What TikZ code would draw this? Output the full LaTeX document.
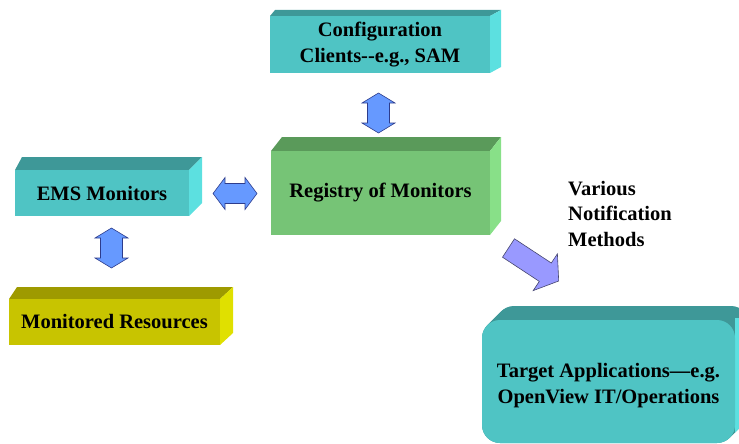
\documentclass[tikz,border=0pt]{standalone}
\usepackage{fontspec}
\setmainfont{Liberation Serif}
\usetikzlibrary{calc}
\definecolor{tealF}{RGB}{79,196,196}
\definecolor{tealT}{RGB}{62,152,152}
\definecolor{tealR}{RGB}{92,224,224}
\definecolor{greenF}{RGB}{118,196,118}
\definecolor{greenT}{RGB}{90,154,90}
\definecolor{greenR}{RGB}{136,224,136}
\definecolor{yelF}{RGB}{200,196,0}
\definecolor{yelT}{RGB}{158,154,0}
\definecolor{yelR}{RGB}{224,224,0}
\definecolor{arrowblue}{RGB}{102,153,255}
\definecolor{arrowedge}{RGB}{45,60,140}
\definecolor{lavender}{RGB}{153,153,255}
\definecolor{lavedge}{RGB}{70,70,110}
% side faces of a box: x1 y1 x2 y2 (front), dx left, dx right, dy, colour prefix
\newcommand\boxsides[8]{%
  \fill[#8T] (#1,#2) -- (#1+#5,#2-#7) -- (#3+#6,#2-#7) -- (#3,#2) -- cycle;
  \fill[#8R] (#3,#2) -- (#3+#6,#2-#7) -- (#3+#6,#4-#7) -- (#3,#4) -- cycle;
}
\tikzset{
  boxface/.style={inner sep=0pt, align=center, text=black},
  blockarrow/.style={fill=arrowblue, draw=arrowedge, line width=0.6pt, line join=miter},
  vdbl/.pic={\draw[blockarrow] (0,-20) -- (16.5,-10) -- (11,-10) -- (11,10) -- (16.5,10)
     -- (0,20) -- (-16.5,10) -- (-11,10) -- (-11,-10) -- (-16.5,-10) -- cycle;},
  hdbl/.pic={\draw[blockarrow] (-22,0) -- (-10,-16) -- (-10,-10) -- (10,-10) -- (10,-16)
     -- (22,0) -- (10,16) -- (10,10) -- (-10,10) -- (-10,16) -- cycle;}
}
\begin{document}
\begin{tikzpicture}[x=1pt,y=-1pt,font=\bfseries\fontsize{20.5}{25.5}\selectfont]
\useasboundingbox (0,0) rectangle (739,444);

% Configuration clients
\boxsides{270}{16}{490}{73}{5}{11}{6}{teal}
\node[boxface, fill=tealF, minimum width=220pt, minimum height=57pt] (cfg) at (380,44.5)
  {Configuration\\Clients-{}-e.g., SAM};

% EMS monitors
\boxsides{15}{170}{189}{216}{7}{13}{13}{teal}
\node[boxface, fill=tealF, minimum width=174pt, minimum height=46pt] (ems) at (102,193) {EMS Monitors};

% Monitored resources
\boxsides{9}{299}{220}{345}{8}{13}{12}{yel}
\node[boxface, fill=yelF, minimum width=211pt, minimum height=46pt] (mon) at (114.5,322) {Monitored Resources};

% Registry
\boxsides{271}{151}{490}{235}{11}{11}{14}{green}
\node[boxface, fill=greenF, minimum width=219pt, minimum height=84pt] (reg) at (380.5,193) {Registry of Monitors};

% Target applications (rounded prism)
\begin{scope}
  \clip (0,0) rectangle (739,444);
  \foreach \t in {0,1,...,14} {
    \fill[tealT, rounded corners=18pt] (482+\t,320-\t) rectangle (735+\t,443-\t);
  }
  \begin{scope}
    \clip (735,318) rectangle (760,444);
    \foreach \t in {0,1,...,14} {
      \fill[tealR, rounded corners=18pt] (482+\t,320-\t) rectangle (735+\t,443-\t);
    }
  \end{scope}
  \node[boxface, fill=tealF, rounded corners=18pt, minimum width=253pt, minimum height=123pt] (tgt) at (608.5,381.5) {};
\end{scope}
\node[boxface, align=center] (tgttext) at ($(tgt.center)+(0,4)$) {Target Applications—e.g.\\OpenView IT/Operations};

% Label
\node[boxface, align=left, anchor=north west] (notif) at (568,181) {Various\\Notification\\Methods};

% Double arrows
\coordinate (a1) at (378.5,113);
\coordinate (a2) at (235,193.5);
\coordinate (a3) at (111.5,248);
\pic at (a1) {vdbl};
\pic at (a2) {hdbl};
\pic at (a3) {vdbl};

% Notification arrow
\draw[fill=lavender, draw=lavedge, line width=0.6pt, line join=miter]
  (514.5,238.8) -- (551.3,263) -- (557.4,253.8) -- (558.7,281) -- (533.2,290.6)
  -- (539.3,281.4) -- (502.5,257.2) -- cycle;
\end{tikzpicture}
\end{document}
